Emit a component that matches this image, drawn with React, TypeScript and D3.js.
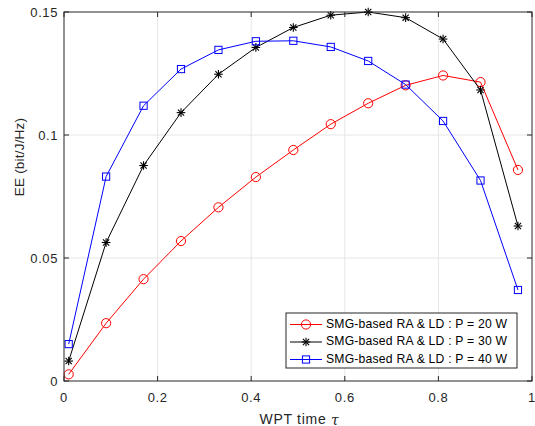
import React from "react";
import * as d3 from "d3";

const tau = [0.01, 0.09, 0.17, 0.25, 0.33, 0.41, 0.49, 0.57, 0.65, 0.73, 0.81, 0.89, 0.97];
const eeP20 = [0.0027, 0.0235, 0.0414, 0.0569, 0.0706, 0.0829, 0.0939, 0.1044, 0.1129, 0.1202, 0.1242, 0.1215, 0.0858];
const eeP30 = [0.0081, 0.0563, 0.0876, 0.1091, 0.1247, 0.1356, 0.1437, 0.1487, 0.1500, 0.1477, 0.1390, 0.1183, 0.0630];
const eeP40 = [0.0150, 0.0831, 0.1119, 0.1268, 0.1346, 0.1381, 0.1383, 0.1358, 0.1301, 0.1205, 0.1057, 0.0815, 0.0370];
const xTicks = [0, 0.2, 0.4, 0.6, 0.8, 1];
const yTicks = [0, 0.05, 0.1, 0.15];
const xTickLabels = ["0", "0.2", "0.4", "0.6", "0.8", "1"];
const yTickLabels = ["0", "0.05", "0.1", "0.15"];
const seriesNames = [
  "SMG-based RA & LD : P = 20 W",
  "SMG-based RA & LD : P = 30 W",
  "SMG-based RA & LD : P = 40 W",
];

const W = 535, H = 426;
const L = 64, R = 532, T = 12, B = 381;
const FONT = "'Liberation Sans', Arial, Helvetica, sans-serif";
const AX = "#262626";

type Marker = "circle" | "star" | "square";

function MarkerShape({ x, y, type, color }: { x: number; y: number; type: Marker; color: string }) {
  if (type === "circle") return <circle cx={x} cy={y} r={4.6} fill="none" stroke={color} strokeWidth={1} />;
  if (type === "square") return <rect x={x - 3.6} y={y - 3.6} width={7.2} height={7.2} fill="none" stroke={color} strokeWidth={1} />;
  const s = 4.3;
  const d = s * 0.72;
  return (
    <g stroke={color} strokeWidth={1.1}>
      <line x1={x - s} y1={y} x2={x + s} y2={y} />
      <line x1={x} y1={y - s} x2={x} y2={y + s} />
      <line x1={x - d} y1={y - d} x2={x + d} y2={y + d} />
      <line x1={x - d} y1={y + d} x2={x + d} y2={y - d} />
    </g>
  );
}

export default function App() {
  const x = d3.scaleLinear().domain([0, 1]).range([L, R]);
  const y = d3.scaleLinear().domain([0, 0.15]).range([B, T]);
  const series = [
    { vals: eeP20, color: "#ff0000", marker: "circle" as Marker, name: seriesNames[0] },
    { vals: eeP30, color: "#000000", marker: "star" as Marker, name: seriesNames[1] },
    { vals: eeP40, color: "#0000ff", marker: "square" as Marker, name: seriesNames[2] },
  ];
  const line = d3.line<number>().x((_, i) => x(tau[i])).y((v) => y(v));
  const tl = 5;
  const legX = 286, legY = 313, legW = 231, legH = 55;
  const rowY = [324.5, 342, 359.5];
  return (
    <svg width={W} height={H} style={{ position: "absolute", left: 0, top: 0, background: "#fff" }} fontFamily={FONT}>
      <rect x={0} y={0} width={W} height={H} fill="#fff" />
      {xTicks.slice(1, -1).map((t) => (
        <line key={"gx" + t} x1={x(t)} x2={x(t)} y1={T} y2={B} stroke="#e6e6e6" strokeWidth={1} />
      ))}
      {yTicks.slice(1, -1).map((t) => (
        <line key={"gy" + t} x1={L} x2={R} y1={y(t)} y2={y(t)} stroke="#e6e6e6" strokeWidth={1} />
      ))}
      {series.map((s) => (
        <g key={s.name}>
          <path d={line(s.vals) || ""} fill="none" stroke={s.color} strokeWidth={1} />
          {s.vals.map((v, i) => (
            <MarkerShape key={i} x={x(tau[i])} y={y(v)} type={s.marker} color={s.color} />
          ))}
        </g>
      ))}
      <rect x={L} y={T} width={R - L} height={B - T} fill="none" stroke={AX} strokeWidth={1} />
      {xTicks.map((t, i) => (
        <g key={"xt" + t}>
          <line x1={x(t)} x2={x(t)} y1={B} y2={B - tl} stroke={AX} />
          <line x1={x(t)} x2={x(t)} y1={T} y2={T + tl} stroke={AX} />
          <text x={x(t)} y={B + 20.5} fontSize={13} letterSpacing={0.6} fill={AX} textAnchor="middle">{xTickLabels[i]}</text>
        </g>
      ))}
      {yTicks.map((t, i) => (
        <g key={"yt" + t}>
          <line x1={L} x2={L + tl} y1={y(t)} y2={y(t)} stroke={AX} />
          <line x1={R} x2={R - tl} y1={y(t)} y2={y(t)} stroke={AX} />
          <text x={L - 6} y={y(t) + 4.6} fontSize={13} letterSpacing={0.6} fill={AX} textAnchor="end">{yTickLabels[i]}</text>
        </g>
      ))}
      <text x={299.5} y={420.5} fontSize={14} letterSpacing={0.7} fill={AX} textAnchor="middle" dominantBaseline="middle">
        WPT time <tspan fontFamily="'DejaVu Serif', 'Liberation Serif', serif" fontStyle="italic">τ</tspan>
      </text>
      <text transform={`translate(20,157) rotate(-90)`} fontSize={13.5} letterSpacing={0.2} fill={AX} textAnchor="middle" dominantBaseline="middle">
        EE (bit/J/Hz)
      </text>
      <rect x={legX} y={legY} width={legW} height={legH} fill="#fff" stroke={AX} strokeWidth={1} />
      {series.map((s, i) => (
        <g key={"lg" + i}>
          <line x1={290} x2={322} y1={rowY[i]} y2={rowY[i]} stroke={s.color} strokeWidth={1} />
          <MarkerShape x={306} y={rowY[i]} type={s.marker} color={s.color} />
          <text x={326} y={rowY[i]} fontSize={12.2} letterSpacing={0.2} fill="#000" dominantBaseline="middle">{s.name}</text>
        </g>
      ))}
    </svg>
  );
}
